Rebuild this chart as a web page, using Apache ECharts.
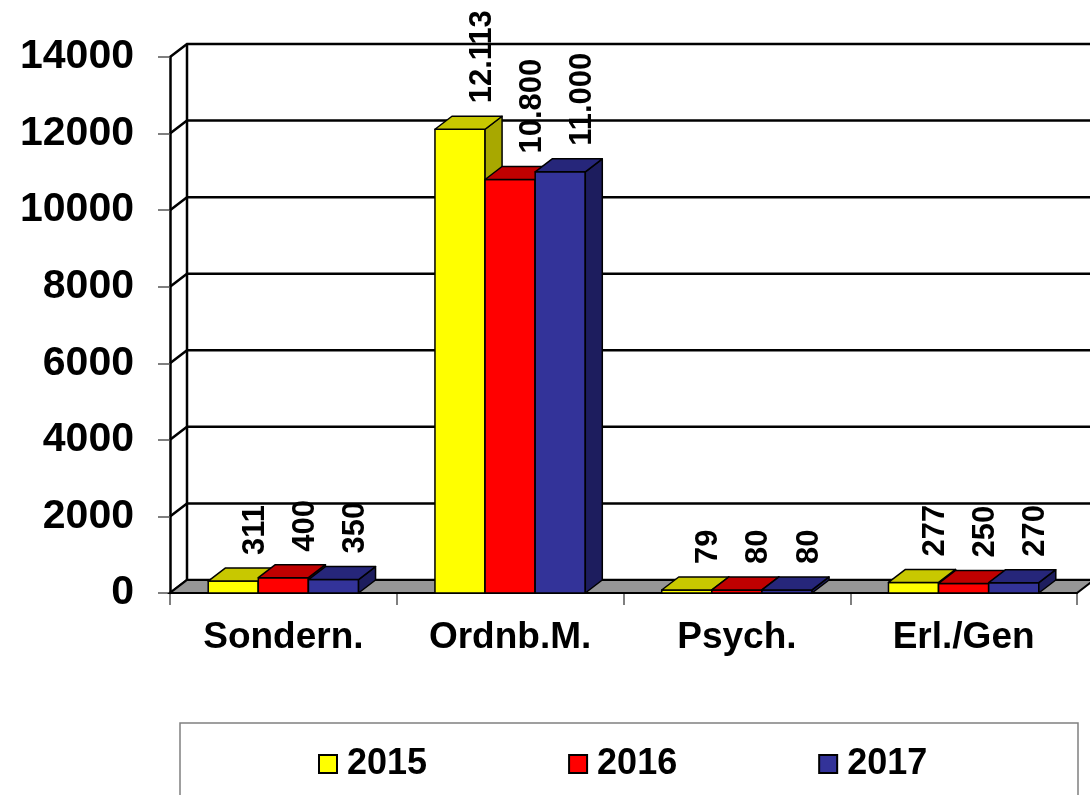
<!DOCTYPE html>
<html>
<head>
<meta charset="utf-8">
<script src="https://cdn.jsdelivr.net/npm/echarts@6/dist/echarts.min.js"></script>
<style>
  html, body { margin: 0; padding: 0; background: #fff; }
  #chart { width: 1090px; height: 795px; }
</style>
</head>
<body>
<div id="chart"></div>
<script>
// Kategorien und Werte
var categories = ['Sondern.', 'Ordnb.M.', 'Psych.', 'Erl./Gen'];
var years = ['2015', '2016', '2017'];
var values2015 = [311, 12113, 79, 277];
var values2016 = [400, 10800, 80, 250];
var values2017 = [350, 11000, 80, 270];
var yTicks = [0, 2000, 4000, 6000, 8000, 10000, 12000, 14000];

// Farben je Jahr: Vorderseite, Oberseite, Seite
var faceColors = [
  ['#ffff00', '#c8c800', '#a8a800'],
  ['#ff0000', '#c00000', '#9c0000'],
  ['#333399', '#26267a', '#1d1d5e']
];
var DX = 17, DY = -13;   // Tiefe der 3D-Darstellung
var FONT = '"Liberation Sans", Arial, sans-serif';

function fmt(v) {
  return String(v).replace(/\B(?=(\d{3})+(?!\d))/g, '.');
}

function pts(list, stroke, width, fill) {
  return {
    type: 'polyline',
    shape: { points: list },
    style: { stroke: stroke || '#000', lineWidth: width || 2.5, fill: fill || null }
  };
}

// Wände, Gitterlinien und Boden
function renderFrame(params, api) {
  var cs = params.coordSys;
  var x0 = cs.x, x1 = cs.x + cs.width;
  var yBase = api.coord([0, 0])[1];
  var yTop = api.coord([0, yTicks[yTicks.length - 1]])[1];
  var children = [];
  children.push(pts([[x0 + DX, yTop + DY], [x0 + DX, yBase + DY]]));
  yTicks.forEach(function (t) {
    var y = api.coord([0, t])[1];
    children.push(pts([[x0, y], [x0 + DX, y + DY], [x1 + DX + 20, y + DY]]));
  });
  children.push({
    type: 'polygon',
    shape: { points: [[x0, yBase], [x1, yBase], [x1 + DX, yBase + DY], [x0 + DX, yBase + DY]] },
    style: { fill: '#969696', stroke: '#000', lineWidth: 2 }
  });
  return { type: 'group', children: children };
}

function makeBarRenderer(k) {
  return function (params, api) {
    var ci = api.value(0), v = api.value(1);
    var c = api.coord([ci, v]);
    var base = api.coord([ci, 0]);
    var band = api.size([1, 0])[0];
    var bw = band * 0.221;
    var xl = c[0] - 1.5 * bw + k * bw, xr = xl + bw;
    var yt = c[1], yb = base[1];
    var col = faceColors[k];
    function face(p, fill) {
      return {
        type: 'polygon',
        shape: { points: p },
        style: { fill: fill, stroke: '#000', lineWidth: 1.5, lineJoin: 'round' }
      };
    }
    return {
      type: 'group',
      children: [
        face([[xl, yb], [xr, yb], [xr, yt], [xl, yt]], col[0]),
        face([[xr, yb], [xr + DX, yb + DY], [xr + DX, yt + DY], [xr, yt]], col[2]),
        face([[xl, yt], [xr, yt], [xr + DX, yt + DY], [xl + DX, yt + DY]], col[1]),
        {
          type: 'text',
          x: (xl + xr) / 2 + DX + 5,
          y: yt + DY - 13,
          rotation: Math.PI / 2,
          z2: 100,
          style: {
            text: fmt(v),
            fill: '#000',
            font: 'bold 31px ' + FONT,
            align: 'left',
            verticalAlign: 'middle'
          }
        }
      ]
    };
  };
}

var seriesValues = [values2015, values2016, values2017];
var series = [{
  type: 'custom',
  name: 'frame',
  renderItem: renderFrame,
  data: [[0, 0]],
  silent: true,
  z: 1
}];
years.forEach(function (y, k) {
  series.push({
    type: 'custom',
    name: y,
    renderItem: makeBarRenderer(k),
    itemStyle: { color: faceColors[k][0], borderColor: '#000', borderWidth: 1.5 },
    data: seriesValues[k].map(function (v, i) { return [i, v]; }),
    z: 2
  });
});

var chart = echarts.init(document.getElementById('chart'));
chart.setOption({
  animation: false,
  backgroundColor: '#fff',
  grid: { left: 170, right: 13, top: 57, bottom: 202 },
  graphic: [{
    type: 'rect',
    shape: { x: 180, y: 723, width: 898, height: 100 },
    style: { fill: null, stroke: '#808080', lineWidth: 1.5 },
    z: 0
  }],
  legend: {
    data: years,
    left: 313,
    top: 741,
    icon: 'rect',
    itemWidth: 18,
    itemHeight: 18,
    itemGap: 141,
    textStyle: { fontFamily: FONT, fontWeight: 'bold', fontSize: 36, color: '#000', padding: [0, 0, 0, 5] }
  },
  xAxis: {
    type: 'category',
    data: categories,
    boundaryGap: true,
    axisLine: { show: true, lineStyle: { color: '#000', width: 2 } },
    axisTick: { show: true, length: 12, lineStyle: { color: '#555', width: 1.5 } },
    axisLabel: { margin: 26, fontFamily: FONT, fontWeight: 'bold', fontSize: 37, color: '#000' },
    splitLine: { show: false }
  },
  yAxis: {
    type: 'value',
    min: 0,
    max: 14000,
    interval: 2000,
    axisLine: { show: true, lineStyle: { color: '#000', width: 2.5 } },
    axisTick: { show: true, length: 12, lineStyle: { color: '#555', width: 1.5 } },
    axisLabel: {
      margin: 36, fontFamily: FONT, fontWeight: 'bold', fontSize: 41, color: '#000',
      formatter: function (v) { return String(v); }
    },
    splitLine: { show: false }
  },
  series: series
});
</script>
</body>
</html>
